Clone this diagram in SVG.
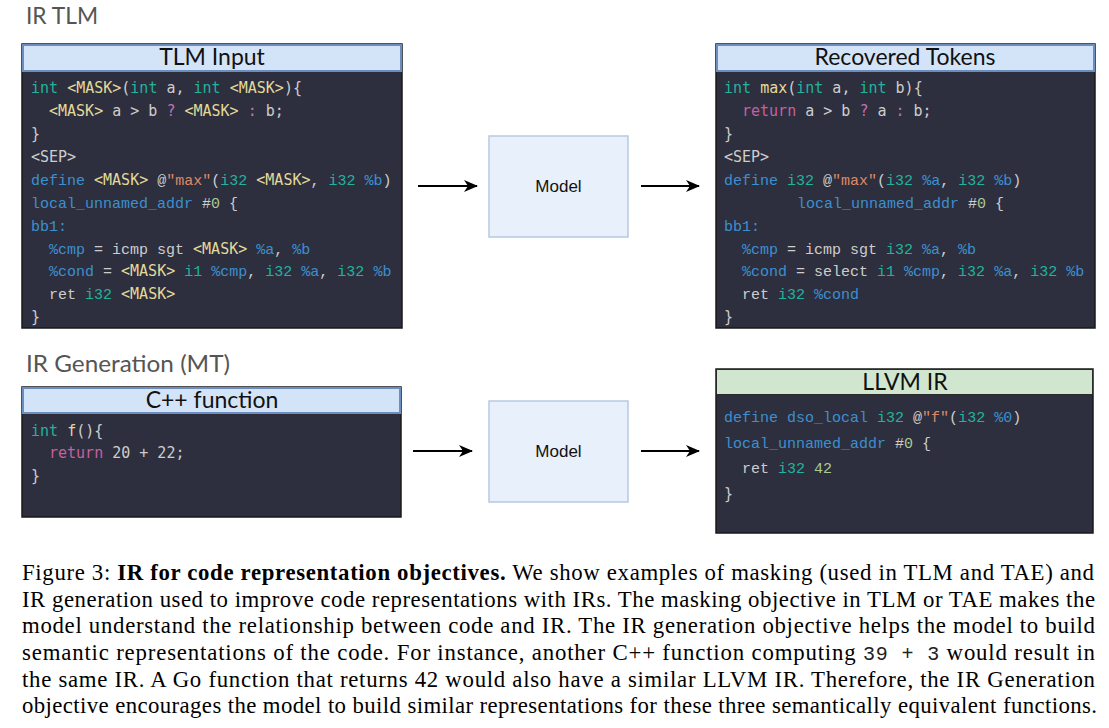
<svg xmlns="http://www.w3.org/2000/svg" width="1109" height="728" viewBox="0 0 1109 728">
<defs>
<style>
.bg{fill:#2d2f3e;stroke:#1a1a1a;stroke-width:1.5}
.hdr{fill:#d4e4f8;stroke:#6c8ebf;stroke-width:2}
.hdrg{fill:#d0e6cf;stroke:#2a2a2a;stroke-width:1}
.ht{font-family:Lato,"Noto Sans",sans-serif;font-size:23px;fill:#111;text-anchor:middle}
.sec{font-family:Lato,"Noto Sans",sans-serif;font-size:23px;fill:#555}
.c{font-family:"DejaVu Sans Mono",monospace;font-size:15px;fill:#cdcdcd}
.ir{font-family:"Liberation Mono",monospace;font-size:15px;fill:#cdcdcd}
.mf{font-family:"DejaVu Sans Mono",monospace;font-size:15px}
.k{fill:#22b39c}.m{fill:#e3d99a}.p{fill:#c36fb4}.r{fill:#c7609f}.b{fill:#3c8fd0}.o{fill:#de8a68}.g{fill:#aacb92}
.model{fill:#e8f0fb;stroke:#b6c9e4;stroke-width:1.5}
.mt{font-family:"Liberation Sans",Arial,sans-serif;font-size:17px;fill:#111;text-anchor:middle}
.cap{font-family:"Liberation Serif","Times New Roman",serif;font-size:22.8px;fill:#000}
.cm{font-family:"Liberation Mono",monospace;font-size:20px;fill:#222}
.arr{stroke:#000;stroke-width:2;fill:none;marker-end:url(#ah)}
</style>
<marker id="ah" markerUnits="userSpaceOnUse" markerWidth="14" markerHeight="12" refX="13" refY="6" orient="auto">
<path d="M0,0 L14,6 L0,12 L4,6 z" fill="#000"/>
</marker>
</defs>
<rect width="1109" height="728" fill="#fff"/>

<text class="sec" x="26" y="24" textLength="72" lengthAdjust="spacingAndGlyphs">IR TLM</text>
<text class="sec" x="26" y="372" textLength="204" lengthAdjust="spacingAndGlyphs">IR Generation (MT)</text>

<g id="tlm-input">
<rect class="bg" x="22" y="44" width="380" height="284"/>
<rect class="hdr" x="23" y="45" width="378" height="26"/>
<text class="ht" x="212" y="65">TLM Input</text>
<text class="c" x="31" y="93"><tspan class="k">int</tspan> <tspan class="m">&lt;MASK&gt;</tspan>(<tspan class="k">int</tspan> a, <tspan class="k">int</tspan> <tspan class="m">&lt;MASK&gt;</tspan>){</text>
<text class="c" x="49" y="116"><tspan class="m">&lt;MASK&gt;</tspan> a &gt; b <tspan class="p">?</tspan> <tspan class="m">&lt;MASK&gt;</tspan> <tspan class="p">:</tspan> b;</text>
<text class="c" x="31" y="139">}</text>
<text class="c" x="31" y="162">&lt;SEP&gt;</text>
<text class="ir" x="31" y="185"><tspan class="b">define</tspan> <tspan class="m mf">&lt;MASK&gt;</tspan> @<tspan class="o">"max"</tspan>(<tspan class="k">i32</tspan> <tspan class="m mf">&lt;MASK&gt;</tspan>, <tspan class="k">i32</tspan> <tspan class="b">%b</tspan>)</text>
<text class="ir" x="31" y="208"><tspan class="b">local_unnamed_addr</tspan> #<tspan class="g">0</tspan> {</text>
<text class="ir" x="31" y="231"><tspan class="b">bb1:</tspan></text>
<text class="ir" x="49" y="254"><tspan class="b">%cmp</tspan> = icmp sgt <tspan class="m mf">&lt;MASK&gt;</tspan> <tspan class="b">%a</tspan>, <tspan class="b">%b</tspan></text>
<text class="ir" x="49" y="276"><tspan class="b">%cond</tspan> = <tspan class="m mf">&lt;MASK&gt;</tspan> <tspan class="k">i1</tspan> <tspan class="b">%cmp</tspan>, <tspan class="k">i32</tspan> <tspan class="b">%a</tspan>, <tspan class="k">i32</tspan> <tspan class="b">%b</tspan></text>
<text class="ir" x="49" y="299">ret <tspan class="k">i32</tspan> <tspan class="m mf">&lt;MASK&gt;</tspan></text>
<text class="c" x="31" y="322">}</text>
</g>

<g id="recovered-tokens">
<rect class="bg" x="716" y="44" width="379" height="284"/>
<rect class="hdr" x="717" y="45" width="377" height="26"/>
<text class="ht" x="905" y="65">Recovered Tokens</text>
<text class="c" x="724" y="93"><tspan class="k">int</tspan> <tspan class="m">max</tspan>(<tspan class="k">int</tspan> a, <tspan class="k">int</tspan> b){</text>
<text class="c" x="742" y="116"><tspan class="r">return</tspan> a &gt; b <tspan class="p">?</tspan> a <tspan class="p">:</tspan> b;</text>
<text class="c" x="724" y="139">}</text>
<text class="c" x="724" y="162">&lt;SEP&gt;</text>
<text class="ir" x="724" y="185"><tspan class="b">define</tspan> <tspan class="k">i32</tspan> @<tspan class="o">"max"</tspan>(<tspan class="k">i32</tspan> <tspan class="b">%a</tspan>, <tspan class="k">i32</tspan> <tspan class="b">%b</tspan>)</text>
<text class="ir" x="797" y="208"><tspan class="b">local_unnamed_addr</tspan> #<tspan class="g">0</tspan> {</text>
<text class="ir" x="724" y="231"><tspan class="b">bb1:</tspan></text>
<text class="ir" x="742" y="254"><tspan class="b">%cmp</tspan> = icmp sgt <tspan class="k">i32</tspan> <tspan class="b">%a</tspan>, <tspan class="b">%b</tspan></text>
<text class="ir" x="742" y="276"><tspan class="b">%cond</tspan> = select <tspan class="k">i1</tspan> <tspan class="b">%cmp</tspan>, <tspan class="k">i32</tspan> <tspan class="b">%a</tspan>, <tspan class="k">i32</tspan> <tspan class="b">%b</tspan></text>
<text class="ir" x="742" y="299">ret <tspan class="k">i32</tspan> <tspan class="b">%cond</tspan></text>
<text class="c" x="724" y="322">}</text>
</g>

<g id="cpp-function">
<rect class="bg" x="22" y="387" width="379" height="130"/>
<rect class="hdr" x="23" y="388" width="377" height="25"/>
<text class="ht" x="212" y="408">C++ function</text>
<text class="c" x="31" y="436"><tspan class="k">int</tspan> <tspan class="m">f</tspan>(){</text>
<text class="c" x="49" y="458"><tspan class="r">return</tspan> 20 + 22;</text>
<text class="c" x="31" y="481">}</text>
</g>

<g id="llvm-ir">
<rect class="bg" x="716" y="369" width="377" height="164"/>
<rect class="hdrg" x="716.5" y="369.5" width="376" height="25"/>
<text class="ht" x="905" y="390">LLVM IR</text>
<text class="ir" x="724" y="422"><tspan class="b">define</tspan> <tspan class="b">dso_local</tspan> <tspan class="k">i32</tspan> @<tspan class="o">"f"</tspan>(<tspan class="k">i32</tspan> <tspan class="b">%0</tspan>)</text>
<text class="ir" x="724" y="448"><tspan class="b">local_unnamed_addr</tspan> #<tspan class="g">0</tspan> {</text>
<text class="ir" x="742" y="473">ret <tspan class="k">i32</tspan> <tspan class="g">42</tspan></text>
<text class="c" x="724" y="499">}</text>
</g>

<g id="model-top">
<rect class="model" x="489" y="136" width="139" height="101"/>
<text class="mt" x="558.5" y="192">Model</text>
</g>
<g id="model-bottom">
<rect class="model" x="489" y="401" width="139" height="101"/>
<text class="mt" x="558.5" y="457">Model</text>
</g>

<g id="connectors">
<line class="arr" x1="418" y1="186" x2="477" y2="186"/>
<line class="arr" x1="641" y1="186" x2="699" y2="186"/>
<line class="arr" x1="413" y1="451" x2="472" y2="451"/>
<line class="arr" x1="641" y1="451" x2="699" y2="451"/>
</g>

<g id="caption">
<text class="cap" x="22" y="580" textLength="1072" lengthAdjust="spacing">Figure 3: <tspan font-weight="bold">IR for code representation objectives.</tspan> We show examples of masking (used in TLM and TAE) and</text>
<text class="cap" x="22" y="607" textLength="1073" lengthAdjust="spacing">IR generation used to improve code representations with IRs. The masking objective in TLM or TAE makes the</text>
<text class="cap" x="22" y="633" textLength="1073" lengthAdjust="spacing">model understand the relationship between code and IR. The IR generation objective helps the model to build</text>
<text class="cap" x="22" y="660" textLength="1073" lengthAdjust="spacing" xml:space="preserve">semantic representations of the code. For instance, another C++ function computing <tspan class="cm">39 + 3</tspan> would result in</text>
<text class="cap" x="22" y="687" textLength="1073" lengthAdjust="spacing">the same IR. A Go function that returns 42 would also have a similar LLVM IR. Therefore, the IR Generation</text>
<text class="cap" x="22" y="713" textLength="1075" lengthAdjust="spacing">objective encourages the model to build similar representations for these three semantically equivalent functions.</text>
</g>
</svg>
